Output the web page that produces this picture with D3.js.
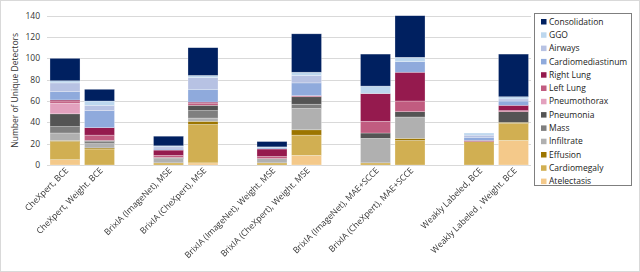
<!DOCTYPE html>
<html>
<head>
<meta charset="utf-8">
<script src="https://cdn.jsdelivr.net/npm/d3@7.9.0/dist/d3.min.js"></script>
<style>
  body { margin: 0; background: #fff; }
  svg { font-family: "Open Sans", "Noto Sans", sans-serif; }
  .xlabels { filter: grayscale(1); }
</style>
</head>
<body>
<svg id="chart" width="640" height="272"></svg>
<script>
// x slots, empty strings are the spacers between pairs
const slots = [
  'CheXpert, BCE', 'CheXpert,  Weight. BCE', '',
  'BrixIA (ImageNet), MSE', 'BrixIA (CheXpert), MSE', ' ',
  'BrixIA (ImageNet), Weight. MSE', 'BrixIA (CheXpert), Weight. MSE', '  ',
  'BrixIA (ImageNet), MAE+SCCE', 'BrixIA (CheXpert), MAE+SCCE', '   ',
  'Weakly Labeled, BCE', 'Weakly Labeled , Weight. BCE'
];
const categories = slots.filter(s => s.trim() !== '');

// stack order, bottom first
const seriesNames = ['Atelectasis', 'Cardiomegaly', 'Effusion', 'Infiltrate', 'Mass',
  'Pneumonia', 'Pneumothorax', 'Left Lung', 'Right Lung', 'Cardiomediastinum',
  'Airways', 'GGO', 'Consolidation'];

const atelectasis       = [5, 0, 0, 2, 0, 9, 0, 0, 0, 23];
const cardiomegaly      = [17, 15, 2, 36, 2, 19, 2, 23, 22, 16];
const effusion          = [1, 1, 0, 3, 0, 5, 0, 2, 0, 1];
const infiltrate        = [7, 4, 4, 3, 4, 20, 23, 20, 0, 0];
const mass              = [6, 2, 1, 7, 0, 4, 0, 0, 0, 0];
const pneumonia         = [12, 1, 0, 5, 0, 7, 5, 5, 0, 10];
const pneumothorax      = [10, 0, 0, 0, 0, 0, 0, 0, 0, 0];
const leftLung          = [2, 5, 2, 2, 2, 1, 11, 10, 0, 1];
const rightLung         = [1, 7, 5, 1, 7, 0, 26, 27, 1, 5];
const cardiomediastinum = [8, 16, 1, 12, 1, 12, 0, 10, 3, 4];
const airways           = [8, 5, 2, 11, 0, 7, 0, 0, 2, 2];
const ggo               = [2, 4, 1, 2, 1, 3, 7, 4, 2, 2];
const consolidation     = [21, 11, 9, 26, 5, 36, 30, 39, 0, 40];

const seriesValues = [atelectasis, cardiomegaly, effusion, infiltrate, mass, pneumonia,
  pneumothorax, leftLung, rightLung, cardiomediastinum, airways, ggo, consolidation];

const seriesColors = ['#F4C98A', '#D1AF52', '#9C7500', '#B0B0B0', '#7F7F7F', '#545454',
  '#E3A1BE', '#C15C80', '#951A4E', '#8FAADC', '#B7C2E3', '#BDD7EE', '#002060'];

const yTicks = [0, 20, 40, 60, 80, 100, 120, 140];

const rows = categories.map((c, i) => {
  const r = { cat: c };
  seriesNames.forEach((s, j) => { r[s] = seriesValues[j][i]; });
  return r;
});

const svg = d3.select('#chart');

// chart frame
svg.append('rect')
   .attr('x', 0.5).attr('y', 0.5).attr('width', 639).attr('height', 271)
   .attr('fill', '#fff').attr('stroke', '#d9d9d9');

const x = d3.scaleBand()
  .domain(slots)
  .range([47.75, 530.75])
  .paddingInner(0.13)
  .paddingOuter(0.065);

const y = d3.scaleLinear().domain([0, 140]).range([165, 15.7]);

// gridlines
svg.append('g')
   .selectAll('line')
   .data(yTicks)
   .join('line')
   .attr('x1', 47).attr('x2', 531)
   .attr('y1', d => Math.round(y(d)) + 0.5)
   .attr('y2', d => Math.round(y(d)) + 0.5)
   .attr('stroke', '#d9d9d9')
   .attr('stroke-width', 1);

// y tick labels
svg.append('g')
   .selectAll('text')
   .data(yTicks)
   .join('text')
   .attr('x', 40)
   .attr('y', d => y(d) + 3)
   .attr('text-anchor', 'end')
   .attr('font-size', 8.5)
   .attr('fill', '#333')
   .text(d => d);

// y title
svg.append('text')
   .attr('transform', `translate(18,${y(70)}) rotate(-90)`)
   .attr('text-anchor', 'middle')
   .attr('font-size', 8.5)
   .attr('fill', '#333')
   .text('Number of Unique Detectors');

// stacked bars
const stack = d3.stack().keys(seriesNames);
const layers = stack(rows);

svg.append('g')
   .selectAll('g')
   .data(layers)
   .join('g')
   .attr('fill', (d, i) => seriesColors[i])
   .selectAll('rect')
   .data(d => d.filter(p => p[1] - p[0] > 0))
   .join('rect')
   .attr('x', p => x(p.data.cat))
   .attr('width', x.bandwidth())
   .attr('y', p => y(p[1]))
   .attr('height', p => y(p[0]) - y(p[1]))
   .attr('stroke', '#ffffff')
   .attr('stroke-opacity', 0.45)
   .attr('stroke-width', 0.6);

// x labels
svg.append('g')
   .attr('class', 'xlabels')
   .selectAll('text')
   .data(categories)
   .join('text')
   .attr('transform', d => `translate(${x(d) + x.bandwidth() / 2 + 4},${171}) rotate(-45)`)
   .attr('text-anchor', 'end')
   .attr('font-size', 8.6)
   .attr('fill', '#333')
   .text(d => d);

// legend
const legend = svg.append('g').attr('transform', 'translate(534,13)');
legend.append('rect')
      .attr('x', 0.5).attr('y', 0.5).attr('width', 97).attr('height', 172)
      .attr('fill', '#fff').attr('stroke', '#7f7f7f');

const legendOrder = seriesNames.slice().reverse();
const legendColors = seriesColors.slice().reverse();
const li = legend.selectAll('g.item')
  .data(legendOrder)
  .join('g')
  .attr('class', 'item')
  .attr('transform', (d, i) => `translate(7,${6 + i * 13.3})`);

li.append('rect')
  .attr('width', 5.5).attr('height', 5.5)
  .attr('y', 0)
  .attr('fill', (d, i) => legendColors[i]);

li.append('text')
  .attr('x', 8)
  .attr('y', 5.6)
  .attr('font-size', 8.5)
  .attr('fill', '#222')
  .text(d => d);
</script>
</body>
</html>
